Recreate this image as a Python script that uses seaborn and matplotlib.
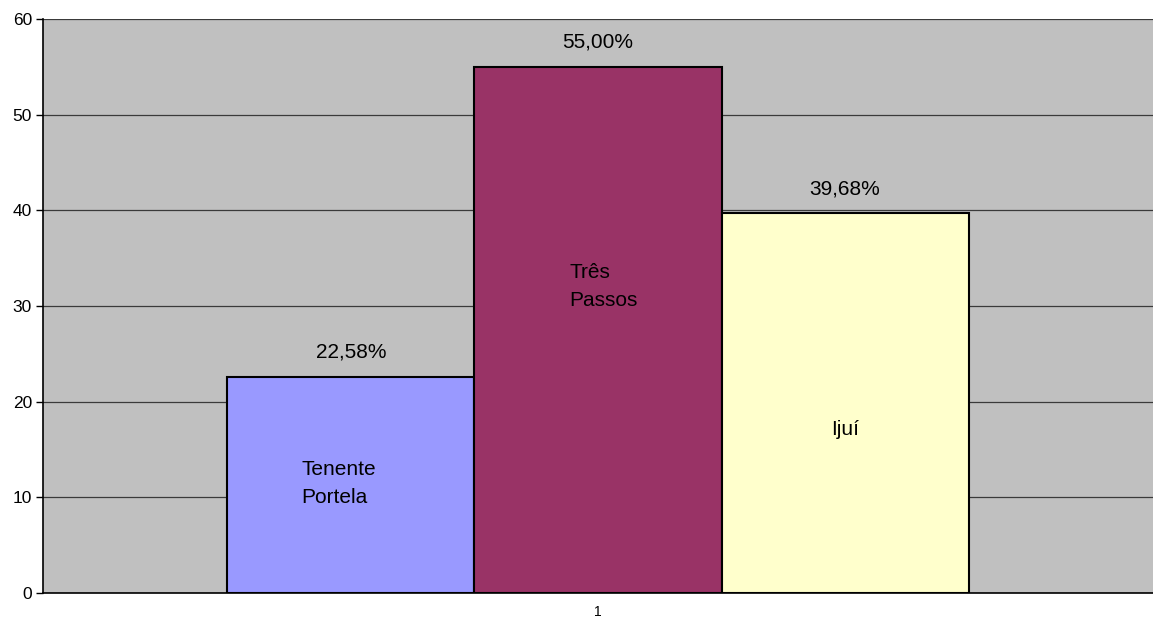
import matplotlib
matplotlib.use("Agg")
import matplotlib.pyplot as plt
import seaborn as sns
import pandas as pd

# Share of each municipality (percent)
municipios = ["Tenente Portela", "Três Passos", "Ijuí"]
valores = [22.58, 55.00, 39.68]
rotulos = ["22,58%", "55,00%", "39,68%"]
nomes_barras = ["Tenente\nPortela", "Três\nPassos", "Ijuí"]
categoria = ["1", "1", "1"]
cores = ["#9999FF", "#993366", "#FFFFCC"]
y_ticks = [0, 10, 20, 30, 40, 50, 60]

sns.set_theme(style="white")
plt.rcParams["font.family"] = ["Liberation Sans", "DejaVu Sans"]

df = pd.DataFrame({"cat": categoria, "mun": municipios, "val": valores})

fig = plt.figure(figsize=(11.53, 6.18), dpi=100)
ax = fig.add_axes([0.0373, 0.0405, 0.9627, 0.9285])
ax.set_facecolor("#C0C0C0")

sns.barplot(data=df, x="cat", y="val", hue="mun", hue_order=municipios,
            palette=cores, width=0.6676, saturation=1, edgecolor="black",
            linewidth=1.5, legend=False, ax=ax, zorder=3)

ax.set_ylim(0, 60)
ax.set_xlim(-0.5, 0.5)
ax.set_yticks(y_ticks)
ax.yaxis.grid(True, color="#3a3a3a", linewidth=0.9, zorder=0)
ax.set_axisbelow(True)
ax.set_xlabel("")
ax.set_ylabel("")

for side in ["top", "right"]:
    ax.spines[side].set_visible(False)
ax.spines["left"].set_color("black")
ax.spines["bottom"].set_color("black")
ax.spines["left"].set_linewidth(1.2)
ax.spines["bottom"].set_linewidth(1.2)

ax.tick_params(axis="y", left=True, length=5, width=1, color="black",
               labelsize=12.5, pad=3, labelcolor="black")
ax.tick_params(axis="x", bottom=False, labelsize=10, pad=3, labelcolor="black")

# Value labels above bars and municipality names inside them
bars = sorted(ax.patches, key=lambda p: p.get_x())
nome_y = [11.4, 32.0, 17.1]
nome_dx = [-0.045, -0.026, 0.0]
nome_ha = ["left", "left", "center"]
for bar, val, txt, nome, ny, dx, ha in zip(bars, valores, rotulos, nomes_barras,
                                           nome_y, nome_dx, nome_ha):
    cx = bar.get_x() + bar.get_width() / 2
    ax.text(cx, val + 2.6, txt, ha="center", va="center", fontsize=15,
            color="black", zorder=5)
    ax.text(cx + dx, ny, nome, ha=ha, va="center", fontsize=15,
            color="black", linespacing=1.6, zorder=5)

fig.savefig("out.png", dpi=100)
